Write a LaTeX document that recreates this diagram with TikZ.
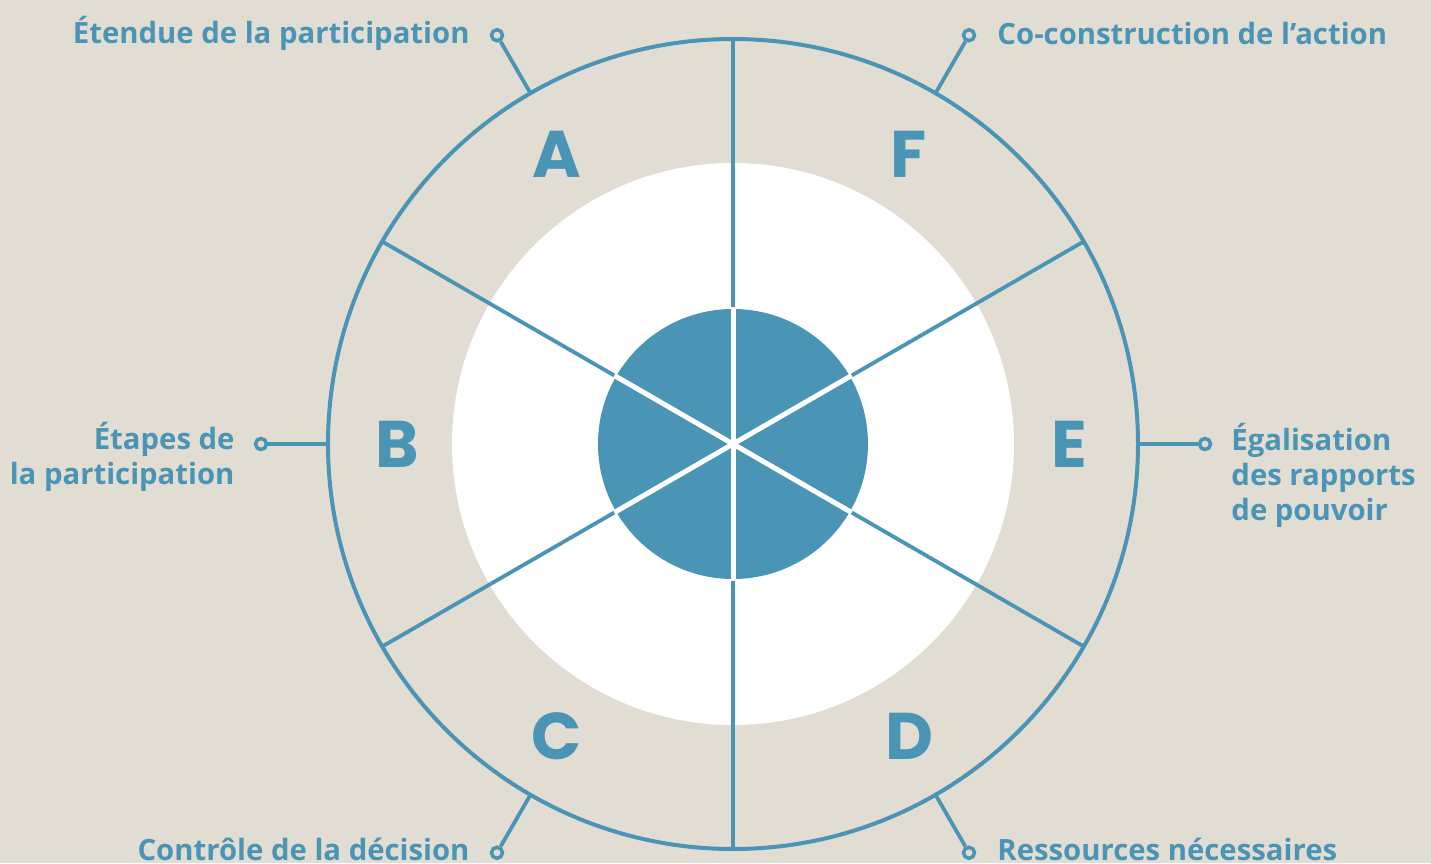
\documentclass[tikz,border=0pt]{standalone}
\usepackage{fontspec}
\setmainfont{Open Sans}
\newfontfamily\letterfont{Poppins}
\usetikzlibrary{positioning}
\definecolor{sand}{HTML}{E2DDD3}
\definecolor{wheelblue}{HTML}{4A94B5}
\tikzstyle{letter} = [text=wheelblue, font=\letterfont\bfseries\fontsize{66}{66}\selectfont]
\tikzstyle{knob} = [circle, draw=wheelblue, fill=sand, line width=3.5pt, minimum size=11pt, inner sep=0pt]
\tikzstyle{theme} = [text=wheelblue, font=\bfseries\fontsize{29.3}{35}\selectfont, inner sep=0pt]
\tikzstyle{spoke} = [draw=wheelblue, line width=3.8pt]
\tikzstyle{connector} = [draw=wheelblue, line width=3.8pt]

\begin{document}
\begin{tikzpicture}[x=1pt, y=1pt]
    \fill [sand] (-733pt,-419pt) rectangle (698pt,444pt);
    \useasboundingbox (-733pt,-419pt) rectangle (698pt,444pt);
    \coordinate (c) at (0,0);
    % wheel
    \fill [white] (c) circle (281pt);
    \fill [wheelblue] (c) circle (135pt);
    \foreach \a in {30,90,...,330}
        \draw [spoke] (c) -- (\a:405pt);
    \foreach \a in {30,90,...,330}
        \draw [white, line width=5pt] (c) -- (\a:137pt);
    \draw [wheelblue, line width=4pt] (c) circle (405pt);
    % letters
    \node (letA) [letter] at (-176pt,290pt) {A};
    \node (letB) [letter] at (-336pt,0pt) {B};
    \node (letC) [letter] at (-176pt,-292pt) {C};
    \node (letD) [letter] at (176pt,-292pt) {D};
    \node (letE) [letter] at (336pt,0pt) {E};
    \node (letF) [letter] at (176pt,290pt) {F};
    % connectors
    \foreach \n/\a in {A/120, B/180, C/240, D/300, E/0, F/60} {
        \coordinate (rim\n) at (\a:405pt);
        \node (knob\n) [knob] at (\a:472pt) {};
        \draw [connector] (rim\n) -- (knob\n);
    }
    % themes
    \node (themeA) [theme, left=20pt of knobA, yshift=2pt] {Étendue de la participation};
    \node (themeB) [theme, left=19pt of knobB, align=right, yshift=-13pt] {Étapes de\\la participation};
    \node (themeC) [theme, left=20pt of knobC, yshift=3pt] {Contrôle de la décision};
    \node (themeD) [theme, right=21pt of knobD, yshift=3pt] {Ressources nécessaires};
    \node (themeE) [theme, right=19pt of knobE, align=left, yshift=-31pt] {Égalisation\\des rapports\\de pouvoir};
    \node (themeF) [theme, right=21pt of knobF, yshift=2pt] {Co-construction de l’action};
\end{tikzpicture}
\end{document}
